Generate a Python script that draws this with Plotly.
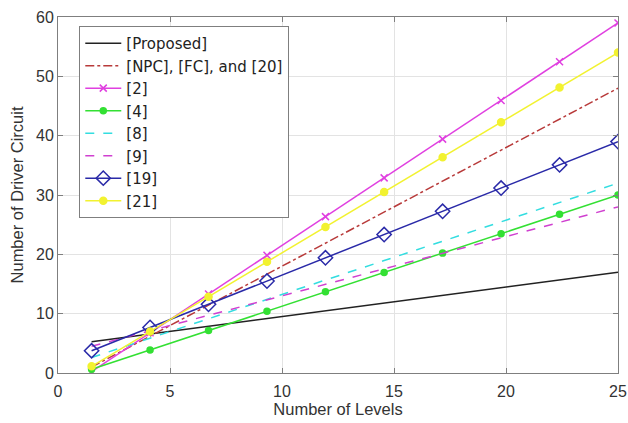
import plotly.graph_objects as go

levels = [1.5, 4.11, 6.72, 9.33, 11.94, 14.56, 17.17, 19.78, 22.39, 25.0]

proposed = [5.25, 6.56, 7.86, 9.17, 10.47, 11.78, 13.08, 14.39, 15.69, 17.0]
npc_fc_20 = [1.0, 6.22, 11.44, 16.67, 21.89, 27.11, 32.33, 37.56, 42.78, 48.0]
ref2 = [0.25, 6.78, 13.31, 19.83, 26.36, 32.89, 39.42, 45.94, 52.47, 59.0]
ref4 = [0.63, 3.89, 7.15, 10.42, 13.68, 16.94, 20.21, 23.47, 26.74, 30.0]
ref8 = [2.6, 5.89, 9.15, 12.41, 15.68, 18.95, 22.21, 25.48, 28.74, 32.0]
ref9 = [4.5, 7.11, 9.72, 12.33, 14.94, 17.56, 20.17, 22.78, 25.39, 28.0]
ref19 = [3.75, 7.67, 11.58, 15.5, 19.42, 23.33, 27.25, 31.17, 35.08, 39.0]
ref21 = [1.13, 7.0, 12.87, 18.75, 24.62, 30.5, 36.37, 42.25, 48.12, 54.0]

series = [
    ("[Proposed]", proposed, "#222222", "solid", None, 6),
    ("[NPC], [FC], and [20]", npc_fc_20, "#B83A3A", "dashdot", None, 6),
    ("[2]", ref2, "#E040E0", "solid", "x-thin", 7),
    ("[4]", ref4, "#33E033", "solid", "circle", 6),
    ("[8]", ref8, "#33DDE0", "dash", None, 6),
    ("[9]", ref9, "#D040D0", "dash", None, 6),
    ("[19]", ref19, "#2A2AA8", "solid", "diamond-open", 11),
    ("[21]", ref21, "#F2F230", "solid", "circle", 7),
]

fig = go.Figure()
for name, ys, color, dash, marker, msize in series:
    mode = "lines+markers" if marker else "lines"
    mk = dict(symbol=marker, size=msize, color=color,
              line=dict(color=color, width=1.5)) if marker else None
    fig.add_trace(go.Scatter(
        x=levels, y=ys, name=name, mode=mode,
        line=dict(color=color, width=1.5, dash=dash),
        marker=mk,
    ))

axis_common = dict(
    showline=True, linecolor="#7f7f7f", linewidth=1, mirror="ticks",
    ticks="inside", ticklen=5, tickcolor="#7f7f7f",
    showgrid=True, gridcolor="#e3e3e3", gridwidth=1, zeroline=False,
    tickfont=dict(size=16, color="#333333"), automargin=False,
)

fig.update_layout(
    width=628, height=423,
    margin=dict(l=58, r=10, t=17, b=50),
    plot_bgcolor="white", paper_bgcolor="white",
    font=dict(family="Liberation Sans, Arial, sans-serif", color="#333333"),
    xaxis=dict(range=[0, 25], dtick=5, ticklabelstandoff=4,
               title=dict(text="Number of Levels", font=dict(size=16.5), standoff=2),
               **axis_common),
    yaxis=dict(range=[0, 60], dtick=10,
               title=dict(text="Number of Driver Circuit", font=dict(size=16.5), standoff=8),
               **axis_common),
    legend=dict(x=0.038, y=0.975, xanchor="left", yanchor="top",
                bgcolor="white", bordercolor="#7f7f7f", borderwidth=1,
                font=dict(size=15, color="#222222", family="DejaVu Sans, sans-serif"),
                itemwidth=36, tracegroupgap=0),
    showlegend=True,
)

fig.write_html("out.html")
